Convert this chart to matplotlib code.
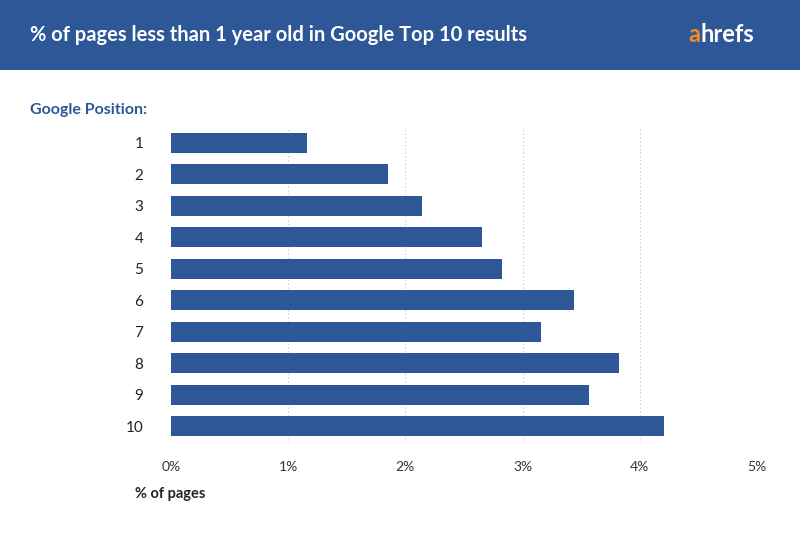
import matplotlib.pyplot as plt
from matplotlib.patches import Rectangle

positions = ['1', '2', '3', '4', '5', '6', '7', '8', '9', '10']
pct = [1.16, 1.85, 2.14, 2.65, 2.82, 3.44, 3.16, 3.82, 3.57, 4.21]
ticks = [0, 1, 2, 3, 4, 5]
tick_labels = ['0%', '1%', '2%', '3%', '4%', '5%']

blue = '#2d5797'
plt.rcParams['font.family'] = ['Lato', 'DejaVu Sans']

fig = plt.figure(figsize=(8, 5.36), dpi=100)
fig.patch.set_facecolor('white')

# header band
fig.patches.append(Rectangle((0, 1 - 70 / 536), 1, 70 / 536, transform=fig.transFigure,
                             facecolor=blue, edgecolor='none'))
fig.text(30 / 800, 1 - 35 / 536, '% of pages less than 1 year old in Google Top 10 results',
         color='white', fontsize=14.5, fontweight='bold', va='center')
fig.text(688 / 800, 1 - 35 / 536, 'a', color='#f58a1f', fontsize=17, fontweight='bold', va='center')
fig.text(701 / 800, 1 - 35 / 536, 'hrefs', color='white', fontsize=17, fontweight='bold', va='center')

fig.text(30 / 800, 1 - 110 / 536, 'Google Position:', color=blue, fontsize=11.5,
         fontweight='bold', va='center')
fig.text(135 / 800, 1 - 494 / 536, '% of pages', color='#222222', fontsize=10.5,
         fontweight='bold', va='center')

ax = fig.add_axes([171 / 800, 1 - 442 / 536, 586 / 800, 315 / 536])
y = list(range(len(positions)))
ax.barh(y, pct, height=0.64, color=blue, zorder=3)
ax.set_ylim(len(positions) - 0.5, -0.5)
ax.set_xlim(0, 5)
ax.set_yticks(y)
ax.set_yticklabels(positions, fontsize=11, color='#222222')
ax.set_xticks(ticks)
ax.set_xticklabels(tick_labels, fontsize=10, color='#333333')
ax.tick_params(length=0, pad=14)
ax.tick_params(axis='y', pad=20)
for s in ax.spines.values():
    s.set_visible(False)
ax.grid(axis='x', color='#c8c8c8', linestyle=(0, (1, 2)), linewidth=0.9, zorder=0)
ax.xaxis.grid(True)
ax.set_axisbelow(True)
# hide the 0% gridline
ax.get_xgridlines()[0].set_visible(False)

fig.savefig('out.png', dpi=100)
